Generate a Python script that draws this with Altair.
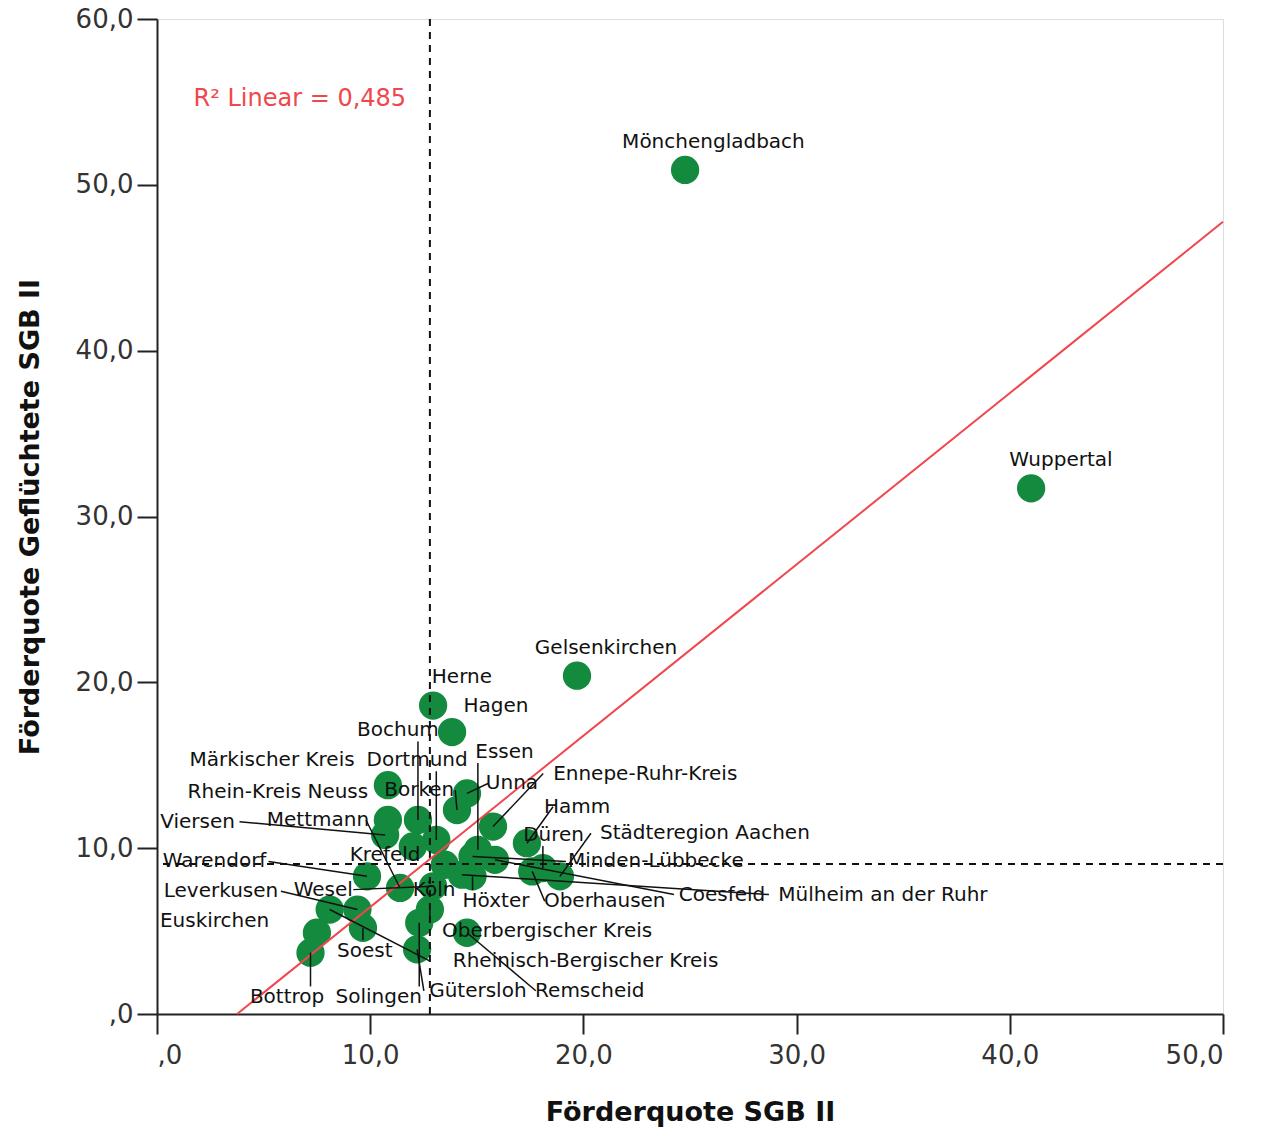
import altair as alt
import pandas as pd

# --- data ---------------------------------------------------------------
names = [
    "Mönchengladbach", "Wuppertal", "Gelsenkirchen", "Herne", "Hagen",
    "Bochum", "Märkischer Kreis", "Dortmund", "Essen", "Rhein-Kreis Neuss",
    "Borken", "Unna", "Ennepe-Ruhr-Kreis", "Hamm", "Viersen", "Mettmann",
    "Düren", "Städteregion Aachen", "Warendorf", "Krefeld", "Minden-Lübbecke",
    "Leverkusen", "Wesel", "Köln", "Höxter", "Oberhausen", "Coesfeld",
    "Mülheim an der Ruhr", "Euskirchen", "Oberbergischer Kreis", "Soest",
    "Rheinisch-Bergischer Kreis", "Bottrop", "Solingen", "Gütersloh", "Remscheid",
]
sgb2 = [
    24.77, 41.0, 19.7, 12.95, 13.84,
    12.24, 10.83, 13.1, 15.05, 10.83,
    14.07, 14.54, 15.76, 17.35, 10.7, 11.4,
    18.1, 18.9, 9.85, 12.0, 14.8,
    9.4, 12.95, 13.5, 14.8, 17.6, 15.85,
    14.3, 7.5, 12.8, 9.66,
    8.1, 7.2, 12.3, 12.2, 14.54,
]
refugees = [
    50.9, 31.7, 20.4, 18.6, 17.0,
    11.7, 13.8, 10.5, 9.9, 11.7,
    12.3, 13.3, 11.3, 10.3, 10.8, 7.6,
    8.8, 8.3, 8.3, 10.1, 9.5,
    6.3, 7.7, 9.0, 8.3, 8.6, 9.3,
    8.4, 4.9, 6.3, 5.2,
    6.3, 3.7, 5.5, 3.9, 4.9,
]
# label anchor positions (data units, centre of the text)
label_x = [
    26.1, 42.4, 21.06, 14.3, 15.9,
    11.3, 5.4, 12.2, 16.3, 5.67,
    12.3, 16.65, 22.9, 19.7, 1.9, 7.55,
    18.6, 25.7, 2.7, 10.7, 23.4,
    3.0, 7.8, 13.0, 15.9, 21.0, 26.5,
    34.05, 2.7, 18.3, 9.75,
    20.1, 6.1, 10.4, 15.05, 20.3,
]
label_y = [
    52.6, 33.4, 22.1, 20.3, 18.6,
    17.1, 15.3, 15.3, 15.8, 13.4,
    13.5, 13.9, 14.5, 12.5, 11.6, 11.7,
    10.8, 10.9, 9.2, 9.6, 9.2,
    7.4, 7.5, 7.5, 6.8, 6.8, 7.2,
    7.2, 5.6, 5.0, 3.8,
    3.2, 1.0, 1.0, 1.4, 1.4,
]
has_leader = [
    False, False, False, False, False,
    True, False, True, True, False,
    True, True, True, True, True, True,
    True, True, True, False, True,
    True, True, False, True, True, True,
    True, False, True, True,
    True, True, True, True, True,
]

mean_x = 12.8
mean_y = 9.05
fit_slope = 1.033
fit_intercept = -3.88
r2_text = "R² Linear = 0,485"

FONT = "DejaVu Sans"
LABEL_FS = 20
GREEN = "#138a3d"
RED = "#f0474e"
PLOT_W, PLOT_H = 1066, 995
X_MAX, Y_MAX = 50, 60

df = pd.DataFrame({"name": names, "x": sgb2, "y": refugees,
                   "lx": label_x, "ly": label_y, "leader": has_leader})

# leader lines end at the edge of the label box (approximate text extent)
px_x = PLOT_W / X_MAX
px_y = PLOT_H / Y_MAX
ends = []
for r in df.itertuples():
    hw = len(r.name) * 0.6 * LABEL_FS / 2 / px_x
    hh = 0.55 * LABEL_FS / px_y
    if r.x < r.lx - hw:
        ex, ey = r.lx - hw, r.ly
    elif r.x > r.lx + hw:
        ex, ey = r.lx + hw, r.ly
    else:
        ex = r.x
        ey = r.ly - hh if r.y < r.ly else r.ly + hh
    ends.append((ex, ey))
df["ex"] = [e[0] for e in ends]
df["ey"] = [e[1] for e in ends]
leaders = df[df["leader"]]

x0 = -fit_intercept / fit_slope
fit_df = pd.DataFrame({"x": [x0, 50.0], "y": [0.0, fit_intercept + fit_slope * 50.0]})

xscale = alt.Scale(domain=[0, X_MAX], nice=False, zero=False)
yscale = alt.Scale(domain=[0, Y_MAX], nice=False, zero=False)
lab = "datum.value == 0 ? ',0' : replace(format(datum.value, '.1f'), '.', ',')"

xaxis = alt.Axis(values=[0, 10, 20, 30, 40, 50], labelExpr=lab, grid=False,
                 tickSize=20, tickWidth=2, tickColor="#222", domainColor="#222",
                 domainWidth=2, labelFont=FONT, labelFontSize=26, labelColor="#333",
                 labelPadding=8, title="Förderquote SGB II", titleFont=FONT,
                 titleFontSize=27, titleFontWeight="bold", titleColor="#111",
                 titleY=98, titleBaseline="middle")
yaxis = alt.Axis(values=[0, 10, 20, 30, 40, 50, 60], labelExpr=lab, grid=False,
                 tickSize=20, tickWidth=2, tickColor="#222", domainColor="#222",
                 domainWidth=2, labelFont=FONT, labelFontSize=26, labelColor="#333",
                 labelPadding=4, title="Förderquote Geflüchtete SGB II",
                 titleFont=FONT, titleFontSize=27, titleFontWeight="bold",
                 titleColor="#111", titleX=-127, titleBaseline="middle")

points = alt.Chart(df).mark_circle(size=800, opacity=1, color=GREEN).encode(
    x=alt.X("x:Q", scale=xscale, axis=xaxis),
    y=alt.Y("y:Q", scale=yscale, axis=yaxis),
)

lead = alt.Chart(leaders).mark_rule(color="#111", strokeWidth=1.5).encode(
    x=alt.X("x:Q", scale=xscale), y=alt.Y("y:Q", scale=yscale),
    x2="ex:Q", y2="ey:Q",
)

vline = alt.Chart(pd.DataFrame({"x": [mean_x]})).mark_rule(
    color="#111", strokeWidth=2, strokeDash=[7, 6]).encode(x=alt.X("x:Q", scale=xscale))
hline = alt.Chart(pd.DataFrame({"y": [mean_y]})).mark_rule(
    color="#111", strokeWidth=2, strokeDash=[7, 6]).encode(y=alt.Y("y:Q", scale=yscale))

fit = alt.Chart(fit_df).mark_line(color=RED, strokeWidth=2).encode(
    x=alt.X("x:Q", scale=xscale), y=alt.Y("y:Q", scale=yscale))

labels = alt.Chart(df).mark_text(font=FONT, fontSize=LABEL_FS, color="#111",
                                 align="center", baseline="middle").encode(
    x=alt.X("lx:Q", scale=xscale), y=alt.Y("ly:Q", scale=yscale), text="name:N")

r2 = alt.Chart(pd.DataFrame({"x": [6.7], "y": [55.2], "t": [r2_text]})).mark_text(
    font=FONT, fontSize=24, color=RED, align="center", baseline="middle").encode(
    x=alt.X("x:Q", scale=xscale), y=alt.Y("y:Q", scale=yscale), text="t:N")

chart = alt.layer(points, vline, hline, fit, lead, labels, r2).properties(
    width=PLOT_W, height=PLOT_H,
    autosize=alt.AutoSizeParams(type="none"),
    padding={"left": 157, "top": 19, "right": 39, "bottom": 122},
).configure_view(stroke="#555", strokeWidth=2).configure(background="white")

chart.save("out.html", embed_options={"renderer": "svg", "actions": False})
